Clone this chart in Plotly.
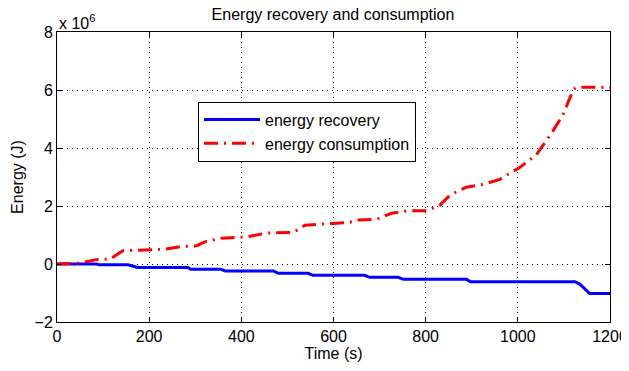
import plotly.graph_objects as go

# ---- data ----
cons_t = [0, 50, 85, 115, 143, 200, 234, 268, 303, 322, 357, 414, 455, 513, 538, 599, 636, 650, 693,
          726, 759, 802, 831, 853, 888, 924, 961, 1004, 1040, 1073, 1098, 1120, 1127, 1200]
cons_v = [0, 0.03, 0.15, 0.17, 0.46, 0.48, 0.51, 0.60, 0.63, 0.77, 0.89, 0.94, 1.07, 1.09, 1.34, 1.40,
          1.44, 1.52, 1.54, 1.75, 1.83, 1.84, 2.03, 2.38, 2.65, 2.74, 2.92, 3.33, 3.76, 4.51, 5.14, 6.00,
          6.10, 6.09]
rec_t = [0, 86, 92, 154, 175, 284, 290, 355, 365, 470, 480, 545, 555, 668, 678, 740, 752, 889, 897,
         1124, 1135, 1145, 1156, 1200]
rec_v = [0, 0, -0.03, -0.03, -0.12, -0.12, -0.18, -0.18, -0.24, -0.24, -0.32, -0.32, -0.39, -0.39,
         -0.46, -0.46, -0.53, -0.53, -0.61, -0.61, -0.70, -0.85, -1.02, -1.02]
x_ticks = [0, 200, 400, 600, 800, 1000, 1200]
y_ticks = [-2, 0, 2, 4, 6, 8]
y_ticklabels = ["\u22122", "0", "2", "4", "6", "8"]
scale = 1e6

FS = 16
W, H = 629, 355
fig = go.Figure()
fig.add_trace(go.Scatter(x=rec_t, y=[v * scale for v in rec_v], mode="lines",
                         name="energy recovery", line=dict(color="#0000ff", width=3)))
fig.add_trace(go.Scatter(x=cons_t, y=[v * scale for v in cons_v], mode="lines",
                         name="energy consumption",
                         line=dict(color="#ff0000", width=3, dash="14px,6px,2px,6px")))

axis_common = dict(showline=True, linecolor="black", linewidth=1, mirror="allticks",
                   ticks="inside", ticklen=5, tickcolor="black", automargin=False,
                   showgrid=True, gridcolor="black", gridwidth=1, griddash="1px,4px",
                   zeroline=False, tickfont=dict(size=FS, color="black"))

fig.update_xaxes(range=[0, 1200], tickvals=x_ticks, **axis_common,
                 title=dict(text="Time (s)", font=dict(size=FS, color="black"), standoff=0))
fig.update_yaxes(range=[-2 * scale, 8 * scale], tickvals=[v * scale for v in y_ticks],
                 ticktext=y_ticklabels, **axis_common,
                 title=dict(text="Energy (J)", font=dict(size=FS, color="black"), standoff=6))

fig.update_layout(
    width=W, height=H,
    margin=dict(l=49, r=27, t=24, b=41),
    paper_bgcolor="white", plot_bgcolor="white",
    font=dict(family="Liberation Sans, Arial, sans-serif", size=FS, color="black"),
    title=dict(text="Energy recovery and consumption", x=(333 - 8) / W, xanchor="center",
               y=1 - 1 / H, yanchor="top", font=dict(size=FS, color="black")),
    legend=dict(x=0.255, y=0.76, xanchor="left", yanchor="top", bgcolor="white",
                bordercolor="black", borderwidth=1, font=dict(size=FS, color="black"),
                itemwidth=56, tracegroupgap=0),
    showlegend=True,
)
fig.add_annotation(x=0, xref="paper", y=1.0, yref="paper", yanchor="bottom", xanchor="left",
                   text="x 10<sup>6</sup>", showarrow=False, font=dict(size=FS, color="black"),
                   yshift=-2)

fig.write_html("out.html")
